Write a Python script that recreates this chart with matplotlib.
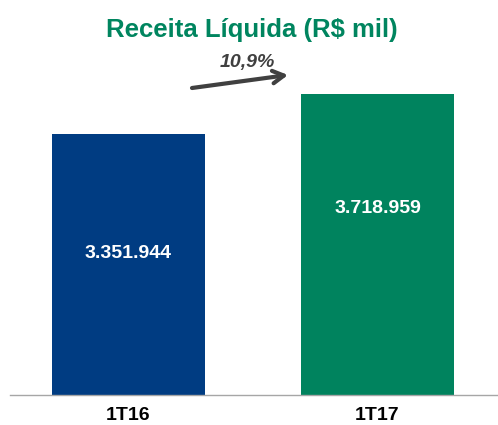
import matplotlib
matplotlib.use("Agg")
import matplotlib.pyplot as plt
from matplotlib.transforms import blended_transform_factory

categories = ["1T16", "1T17"]
values = [3351944, 3718959]
value_labels = ["3.351.944", "3.718.959"]
growth_label = "10,9%"
title = "Receita Líquida (R$ mil)"
colors = ["#003C82", "#00835E"]

W, H = 498, 425
fig = plt.figure(figsize=(W / 100, H / 100), dpi=100)
plt.rcParams['font.family'] = ['Liberation Sans', 'DejaVu Sans']

def fx(px):
    return px / W

def fy(py):
    return 1 - py / H

ax = fig.add_axes([fx(10), fy(395), fx(498) - fx(10), fy(60) - fy(395)])
x = list(range(len(categories)))
ax.bar(x, values, width=0.614, color=colors, zorder=2)
ax.set_xlim(-0.476, 1.484)
ax.set_ylim(960000, 4033700)
for s in ["top", "right", "left"]:
    ax.spines[s].set_visible(False)
ax.spines["bottom"].set_color("#a6a6a6")
ax.spines["bottom"].set_linewidth(1.0)
ax.spines["bottom"].set_zorder(3)
ax.set_yticks([])
ax.set_xticks([])
ax.patch.set_alpha(0)

trans = blended_transform_factory(ax.transData, fig.transFigure)
label_y = [253, 208]
for i, (lab, ly) in enumerate(zip(value_labels, label_y)):
    ax.text(i, fy(ly), lab, transform=trans, ha="center", va="center",
            color="white", fontsize=14, fontweight="bold")
for i, c in enumerate(categories):
    ax.text(i, fy(420.5), c, transform=trans, ha="center", va="baseline",
            color="black", fontsize=14, fontweight="bold")

fig.text(fx(252), fy(37), title, ha="center", va="baseline",
         color="#00855F", fontsize=18.5, fontweight="bold")

fig.text(fx(247), fy(67), growth_label, ha="center", va="baseline",
         color="#404040", fontsize=14, fontweight="bold", style="italic")
ax.annotate("", xy=(fx(288), fy(75)), xytext=(fx(192), fy(88)),
            xycoords="figure fraction", textcoords="figure fraction",
            arrowprops=dict(arrowstyle="->,head_length=0.8,head_width=0.45",
                            color="#404040", lw=3, shrinkA=0, shrinkB=0))

fig.savefig("out.png", dpi=100)
